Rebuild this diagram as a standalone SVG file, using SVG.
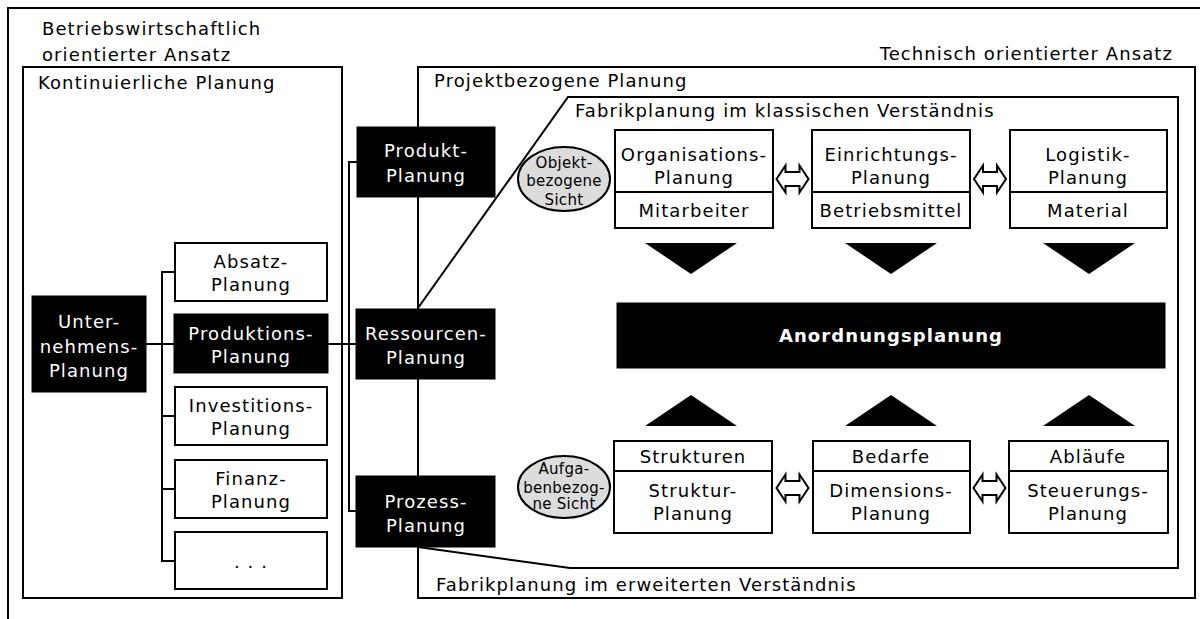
<svg xmlns="http://www.w3.org/2000/svg" width="1200" height="619" viewBox="0 0 1200 619">
  <style>
    text { font-family: "DejaVu Sans", "Liberation Sans", sans-serif; font-size: 18px; letter-spacing: 1.1px; fill: #000; }
    .c { text-anchor: middle; }
    .w { fill: #fff; }
    .b { font-weight: bold; }
    .s { font-size: 15px; letter-spacing: 0.3px; }
    .frame { fill: none; stroke: #000; stroke-width: 2; }
    .box { fill: #fff; stroke: #000; stroke-width: 2; }
    .dark { fill: #000; stroke: #000; stroke-width: 1; }
    .line { fill: none; stroke: #000; stroke-width: 2; }
    .oval { fill: #dcdcdc; stroke: #000; stroke-width: 2; }
    .tri { fill: #000; }
    .dbl { fill: #fff; stroke: #000; stroke-width: 2; stroke-linejoin: miter; }
  </style>
  <defs>
    <polygon id="dblArrow" class="dbl" points="-16,0 -7,-13.5 -7,-7 7,-7 7,-13.5 16,0 7,13.5 7,7 -7,7 -7,13.5"/>
  </defs>

  <rect width="1200" height="619" fill="#fff"/>

  <!-- frames -->
  <g id="frames">
    <path class="frame" d="M8,619 V8 H1200"/>
    <text x="42" y="35">Betriebswirtschaftlich</text>
    <text x="42" y="61">orientierter Ansatz</text>
    <text x="1173" y="60" text-anchor="end">Technisch orientierter Ansatz</text>

    <rect class="frame" x="23" y="67" width="319" height="531"/>
    <text x="38" y="89">Kontinuierliche Planung</text>

    <rect class="frame" x="418" y="67" width="777" height="531"/>
    <text x="434" y="87">Projektbezogene Planung</text>

    <polyline class="frame" points="418,308 568,97 1178,97 1178,568 570,568 418,547"/>
    <text x="575" y="117">Fabrikplanung im klassischen Verständnis</text>
    <text x="436" y="591">Fabrikplanung im erweiterten Verständnis</text>
  </g>

  <!-- connectors -->
  <g id="connectors">
    <line class="line" x1="146" y1="344" x2="356" y2="344"/>
    <path class="line" d="M175,272 H162 V561 H175"/>
    <path class="line" d="M162,416 H175 M162,489 H175"/>
    <path class="line" d="M357,162 H349 V511 H357"/>
    <polygon class="tri" points="645,243 737,243 691,274"/>
    <polygon class="tri" points="845,243 937,243 891,274"/>
    <polygon class="tri" points="1043,243 1135,243 1089,274"/>
    <polygon class="tri" points="645,426 737,426 691,395"/>
    <polygon class="tri" points="845,426 937,426 891,395"/>
    <polygon class="tri" points="1043,426 1135,426 1089,395"/>
    <use href="#dblArrow" x="792.5" y="179"/>
    <use href="#dblArrow" x="990" y="179"/>
    <use href="#dblArrow" x="792.5" y="488"/>
    <use href="#dblArrow" x="989.5" y="488"/>
  </g>

  <!-- continuous planning nodes -->
  <g id="unternehmensplanung">
    <rect class="dark" x="32" y="296" width="114" height="96"/>
    <text class="c w" x="89" y="328">Unter-</text>
    <text class="c w" x="89" y="353">nehmens-</text>
    <text class="c w" x="89" y="377">Planung</text>
  </g>
  <g id="absatzplanung">
    <rect class="box" x="175" y="243" width="152" height="58"/>
    <text class="c" x="251" y="268">Absatz-</text>
    <text class="c" x="251" y="291">Planung</text>
  </g>
  <g id="produktionsplanung">
    <rect class="dark" x="174" y="314" width="154" height="59"/>
    <text class="c w" x="251" y="340">Produktions-</text>
    <text class="c w" x="251" y="363">Planung</text>
  </g>
  <g id="investitionsplanung">
    <rect class="box" x="175" y="387" width="152" height="58"/>
    <text class="c" x="251" y="412">Investitions-</text>
    <text class="c" x="251" y="435">Planung</text>
  </g>
  <g id="finanzplanung">
    <rect class="box" x="175" y="460" width="152" height="58"/>
    <text class="c" x="251" y="485">Finanz-</text>
    <text class="c" x="251" y="508">Planung</text>
  </g>
  <g id="weitere">
    <rect class="box" x="175" y="532" width="152" height="57"/>
    <text class="c" x="251" y="568">. . .</text>
  </g>

  <!-- project planning nodes -->
  <g id="produktplanung">
    <rect class="dark" x="357" y="127" width="138" height="70"/>
    <text class="c w" x="426" y="157">Produkt-</text>
    <text class="c w" x="426" y="182">Planung</text>
  </g>
  <g id="ressourcenplanung">
    <rect class="dark" x="356" y="309" width="139" height="70"/>
    <text class="c w" x="426" y="340">Ressourcen-</text>
    <text class="c w" x="426" y="364">Planung</text>
  </g>
  <g id="prozessplanung">
    <rect class="dark" x="356" y="476" width="139" height="71"/>
    <text class="c w" x="426" y="508">Prozess-</text>
    <text class="c w" x="426" y="532">Planung</text>
  </g>

  <!-- object-related view -->
  <g id="objektsicht">
    <ellipse class="oval" cx="564" cy="179" rx="46" ry="32"/>
    <text class="c s" x="564" y="168">Objekt-</text>
    <text class="c s" x="564" y="186">bezogene</text>
    <text class="c s" x="564" y="205">Sicht</text>
  </g>
  <g id="organisationsplanung">
    <rect class="box" x="615" y="130" width="158" height="98"/>
    <line class="line" x1="615" y1="192" x2="773" y2="192"/>
    <text class="c" x="694" y="161">Organisations-</text>
    <text class="c" x="694" y="184">Planung</text>
    <text class="c" x="694" y="217">Mitarbeiter</text>
  </g>
  <g id="einrichtungsplanung">
    <rect class="box" x="812" y="130" width="158" height="98"/>
    <line class="line" x1="812" y1="192" x2="970" y2="192"/>
    <text class="c" x="891" y="161">Einrichtungs-</text>
    <text class="c" x="891" y="184">Planung</text>
    <text class="c" x="891" y="217">Betriebsmittel</text>
  </g>
  <g id="logistikplanung">
    <rect class="box" x="1010" y="130" width="157" height="98"/>
    <line class="line" x1="1010" y1="192" x2="1167" y2="192"/>
    <text class="c" x="1088" y="161">Logistik-</text>
    <text class="c" x="1088" y="184">Planung</text>
    <text class="c" x="1088" y="217">Material</text>
  </g>

  <g id="anordnungsplanung">
    <rect class="dark" x="617" y="303" width="548" height="65"/>
    <text class="c w b" x="891" y="342">Anordnungsplanung</text>
  </g>

  <!-- task-related view -->
  <g id="aufgabensicht">
    <ellipse class="oval" cx="564" cy="487" rx="46" ry="31"/>
    <text class="c s" x="564" y="474">Aufga-</text>
    <text class="c s" x="564" y="493">benbezog-</text>
    <text class="c s" x="564" y="509">ne Sicht</text>
  </g>
  <g id="strukturplanung">
    <rect class="box" x="614" y="441" width="158" height="92"/>
    <line class="line" x1="614" y1="471" x2="772" y2="471"/>
    <text class="c" x="693" y="463">Strukturen</text>
    <text class="c" x="693" y="497">Struktur-</text>
    <text class="c" x="693" y="520">Planung</text>
  </g>
  <g id="dimensionsplanung">
    <rect class="box" x="813" y="441" width="157" height="92"/>
    <line class="line" x1="813" y1="471" x2="970" y2="471"/>
    <text class="c" x="891" y="463">Bedarfe</text>
    <text class="c" x="891" y="497">Dimensions-</text>
    <text class="c" x="891" y="520">Planung</text>
  </g>
  <g id="steuerungsplanung">
    <rect class="box" x="1009" y="441" width="159" height="92"/>
    <line class="line" x1="1009" y1="471" x2="1168" y2="471"/>
    <text class="c" x="1088" y="463">Abläufe</text>
    <text class="c" x="1088" y="497">Steuerungs-</text>
    <text class="c" x="1088" y="520">Planung</text>
  </g>
</svg>
